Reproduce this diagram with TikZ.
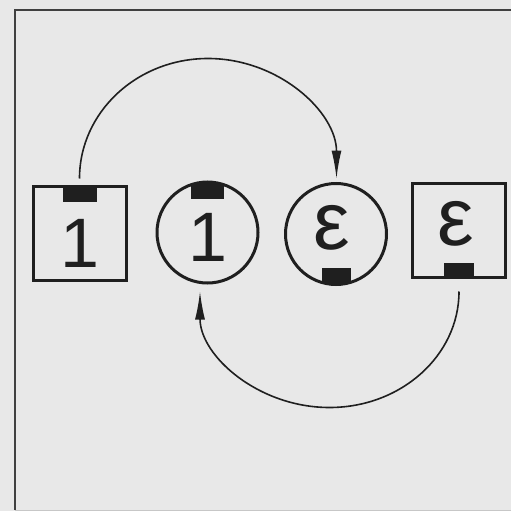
\documentclass[tikz,border=0pt]{standalone}
\usepackage{fontspec}
\setmainfont{Liberation Sans}
\usetikzlibrary{arrows.meta}
\definecolor{paper}{gray}{0.91}
\definecolor{ink}{gray}{0.12}
\tikzset{
  box/.style={draw=ink,line width=3pt,minimum width=93pt,minimum height=94pt,inner sep=0pt},
  disc/.style={draw=ink,circle,line width=3pt,minimum size=101pt,inner sep=0pt},
  tab/.style={fill=ink},
  digit/.style={text=ink,inner sep=0pt,font=\fontsize{70}{70}\selectfont},
  flip/.style={ink,line width=1.6pt,-{Latex[length=28pt,width=10pt]}}
}
\begin{document}
\begin{tikzpicture}[x=1pt,y=-1pt]
  \fill[paper] (0,0) rectangle (511,511);
  \useasboundingbox (0,0) rectangle (511,511);
  % frame
  \draw[ink!85,line width=2.5pt] (511,10) -- (15,10) -- (15,510);
  \draw[ink!25,line width=1pt] (15,510) -- (511,510);

  \node[box] (sq1) at (79.5,233) {};
  \node[disc] (ci1) at (207.5,232.5) {};
  \node[disc] (ci3) at (336,234) {};
  \node[box] (sq3) at (459,230) {};

  \fill[tab] ([xshift=-17pt]sq1.north) rectangle ([xshift=17pt,yshift=-17pt]sq1.north);
  \fill[tab] ([xshift=-15pt]sq3.south) rectangle ([xshift=15pt,yshift=16pt]sq3.south);
  \begin{scope}
    \clip (ci1.center) circle (50pt);
    \fill[tab] ([xshift=-16.5pt]ci1.north) rectangle ([xshift=16.5pt,yshift=-18pt]ci1.north);
  \end{scope}
  \begin{scope}
    \clip (ci3.center) circle (50pt);
    \fill[tab] ([xshift=-14.5pt]ci3.south) rectangle ([xshift=14.5pt,yshift=18pt]ci3.south);
  \end{scope}

  \node[digit] (one1) at (80,243) {1};
  \node[digit] (one2) at (208,237) {1};
  \node[digit,font=\fontsize{82}{82}\selectfont] (eps1) at (332,228) {ε};
  \node[digit,font=\fontsize{82}{82}\selectfont] (eps2) at (456,224) {ε};

  \draw[flip] ([yshift=6pt]sq1.north) arc[start angle=180,end angle=0,x radius=128.5pt,y radius=120pt];
  \draw[flip] ([yshift=-13pt]sq3.south) arc[start angle=0,end angle=-180,x radius=129.5pt,y radius=116pt];
\end{tikzpicture}
\end{document}
